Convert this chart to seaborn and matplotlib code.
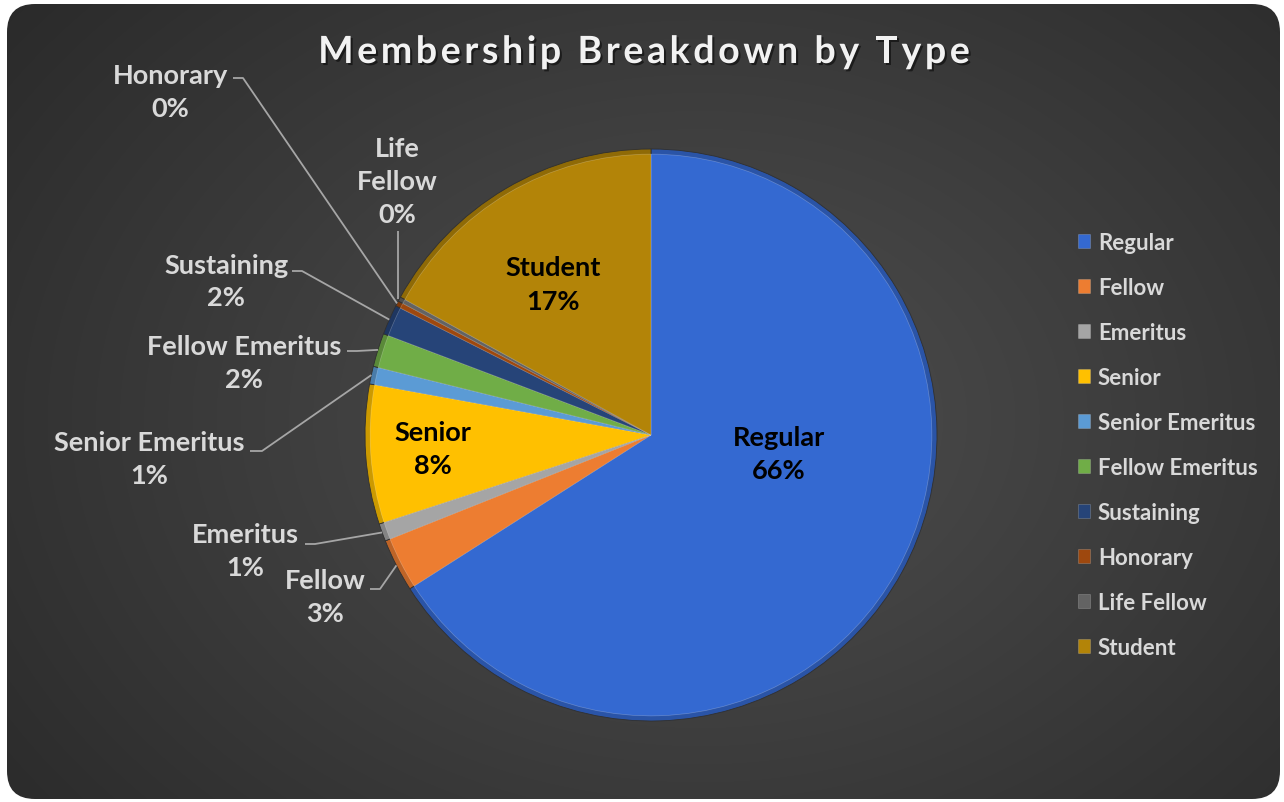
import numpy as np
import matplotlib.pyplot as plt
import matplotlib.patheffects as pe
from matplotlib.patches import FancyBboxPatch
from matplotlib import font_manager
from matplotlib.ft2font import FT2Font
import seaborn as sns

# ================= DATA =================
categories = ["Regular", "Fellow", "Emeritus", "Senior", "Senior Emeritus",
              "Fellow Emeritus", "Sustaining", "Honorary", "Life Fellow", "Student"]
counts = [1320, 60, 20, 158, 20, 38, 34, 6, 5, 340]
colors = ["#3469D1", "#ED7D31", "#A5A5A5", "#FFC000", "#5B9BD5",
          "#70AD47", "#264478", "#9E480E", "#636363", "#B38408"]

TITLE = "Membership Breakdown by Type"

# ================= LAYOUT (pixels in the 1284x803 picture) =================
W, H = 1284, 803
CX, CY, R = 651, 436, 286
LABEL_SIZE = 19.5
LEGEND_SIZE = 16

# labels drawn inside the pie: category -> (x, y)
inside_pos = {"Regular": (779, 455), "Senior": (433, 450), "Student": (553, 285)}

# labels outside: category -> (text x, text y, leader start x, leader start y, elbow length)
outside_pos = {
    "Honorary": (170, 92, 233, 79, 10),
    "Life Fellow": (397, 182, 398, 232, 0),
    "Sustaining": (226, 282, 292, 272, 10),
    "Fellow Emeritus": (244, 364, 347, 352, 10),
    "Senior Emeritus": (149, 460, 250, 452, 12),
    "Emeritus": (245, 552, 305, 545, 10),
    "Fellow": (325, 598, 370, 590, 10),
}
label_text = {"Life Fellow": "Life\nFellow"}


def to_data(px, py):
    return (px - CX) / R, (CY - py) / R


def shade(c, f):
    rgb = np.array(plt.matplotlib.colors.to_rgb(c))
    return tuple(np.clip(rgb * f, 0, 1))


def spaced_title(fig, text, cx, cy, size, spacing_px, **kw):
    # matplotlib has no letter-spacing, so place the glyphs one by one
    fp = font_manager.FontProperties(family=plt.rcParams['font.family'], weight="bold")
    font = FT2Font(font_manager.findfont(fp))
    font.set_size(size, 100)
    adv = [font.load_char(ord(ch)).linearHoriAdvance / 65536.0 for ch in text]
    total = sum(adv) + spacing_px * (len(text) - 1)
    x = cx - total / 2.0
    for ch, a in zip(text, adv):
        fig.text(x / W, 1 - cy / H, ch, ha="left", va="center", fontsize=size,
                 fontweight="bold", **kw)
        x += a + spacing_px


def main():
    sns.set_theme(style="white")
    plt.rcParams['font.family'] = ['Lato', 'DejaVu Sans']

    fig = plt.figure(figsize=(W / 100, H / 100), dpi=100)
    fig.patch.set_facecolor("white")

    # background: dark radial gradient inside a rounded rectangle
    bg = fig.add_axes([0, 0, 1, 1])
    bg.set_xlim(0, W)
    bg.set_ylim(H, 0)
    bg.axis("off")
    yy, xx = np.mgrid[0:H, 0:W]
    d = np.sqrt(((xx - 700) / 800.0) ** 2 + ((yy - 420) / 600.0) ** 2)
    g = 0.31 - 0.13 * np.minimum(d, 1.1)
    img = np.dstack([g, g, g])
    im = bg.imshow(img, extent=(0, W, H, 0), interpolation="bilinear")
    box = FancyBboxPatch((7, 5), W - 11, H - 8,
                         boxstyle="round,pad=0,rounding_size=28",
                         transform=bg.transData, facecolor="none", edgecolor="none")
    bg.add_patch(box)
    im.set_clip_path(box)

    # title
    spaced_title(fig, TITLE, 644, 53, 27, 3.6, color="#F2F2F2",
                 path_effects=[pe.withSimplePatchShadow(offset=(1.5, -1.5),
                                                         shadow_rgbFace="black", alpha=0.5)])

    # pie
    ax = fig.add_axes([(CX - R) / W, (H - CY - R) / H, 2 * R / W, 2 * R / H])
    ax.pie(counts, colors=[shade(c, 0.8) for c in colors], startangle=90,
           counterclock=False, radius=1.0,
           wedgeprops=dict(linewidth=0.6, edgecolor="#303030"))
    wedges, _ = ax.pie(counts, colors=colors, startangle=90, counterclock=False,
                       radius=0.982,
                       wedgeprops=dict(linewidth=0.5, edgecolor=(1, 1, 1, 0.25)))
    ax.set_xlim(-1, 1)
    ax.set_ylim(-1, 1)
    ax.set_aspect("equal")
    ax.axis("off")

    total = float(sum(counts))
    pct = {c: v / total * 100 for c, v in zip(categories, counts)}

    for cat, (px, py) in inside_pos.items():
        x, y = to_data(px, py)
        ax.text(x, y, f"{cat}\n{pct[cat]:.0f}%", ha="center", va="center",
                fontsize=LABEL_SIZE, fontweight="bold", color="black", linespacing=1.45)

    for w, cat in zip(wedges, categories):
        if cat not in outside_pos:
            continue
        tx, ty, sx, sy, elbow = outside_pos[cat]
        x, y = to_data(tx, ty)
        ax.text(x, y, f"{label_text.get(cat, cat)}\n{pct[cat]:.0f}%", ha="center",
                va="center", fontsize=LABEL_SIZE, fontweight="bold", color="#D9D9D9",
                linespacing=1.45)
        th = np.deg2rad((w.theta1 + w.theta2) / 2)
        ex, ey = np.cos(th), np.sin(th)
        x0, y0 = to_data(sx, sy)
        x1, y1 = to_data(sx + elbow, sy)
        if elbow == 0:
            ex = x0
        ax.plot([x0, x1, ex], [y0, y1, ey], color="#A6A6A6", lw=1.3,
                clip_on=False, solid_capstyle="butt")

    leg = fig.legend(wedges, categories, loc="upper left",
                     bbox_to_anchor=(1058 / W, 1 - 213 / H), frameon=False,
                     handlelength=0.55, handleheight=0.55, handletextpad=0.35,
                     labelspacing=1.08, fontsize=LEGEND_SIZE)
    for t in leg.get_texts():
        t.set_color("#D9D9D9")
        t.set_fontweight("bold")

    fig.savefig("out.png", dpi=100)


if __name__ == "__main__":
    main()
